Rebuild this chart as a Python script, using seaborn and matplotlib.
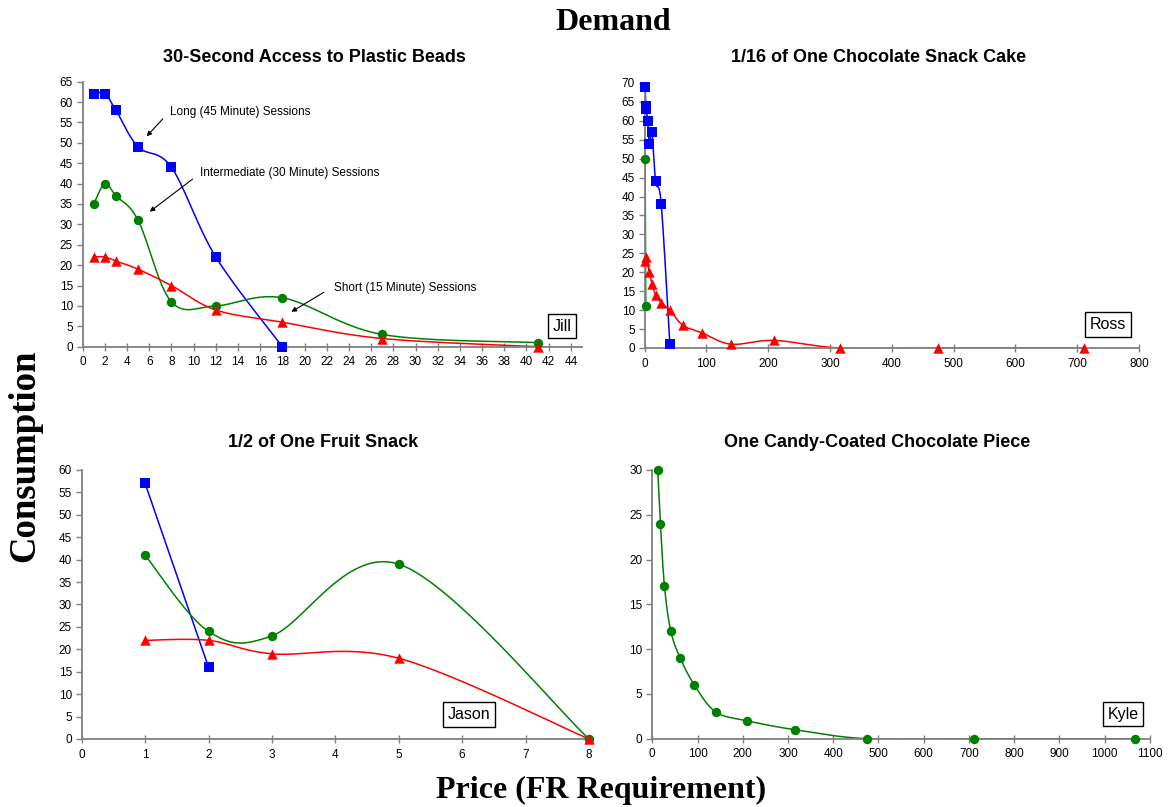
import numpy as np
import matplotlib
matplotlib.use('Agg')
import matplotlib.pyplot as plt
import seaborn as sns

# Jill - 30-second access to plastic beads
jill_long_x = [1, 2, 3, 5, 8, 12, 18]
jill_long_y = [62, 62, 58, 49, 44, 22, 0]
jill_mid_x = [1, 2, 3, 5, 8, 12, 18, 27, 41]
jill_mid_y = [35, 40, 37, 31, 11, 10, 12, 3, 1]
jill_short_x = [1, 2, 3, 5, 8, 12, 18, 27, 41]
jill_short_y = [22, 22, 21, 19, 15, 9, 6, 2, 0]

# Ross - 1/16 of one chocolate snack cake
ross_long_x = [1, 2, 3, 5, 8, 12, 18, 27, 41]
ross_long_y = [69, 64, 63, 60, 54, 57, 44, 38, 1]
ross_mid_x = [1, 2]
ross_mid_y = [50, 11]
ross_short_x = [1, 2, 8, 12, 18, 27, 41, 62, 93, 140, 210, 316, 474, 711]
ross_short_y = [23, 24, 20, 17, 14, 12, 10, 6, 4, 1, 2, 0, 0, 0]

# Jason - 1/2 of one fruit snack
jason_long_x = [1, 2]
jason_long_y = [57, 16]
jason_mid_x = [1, 2, 3, 5, 8]
jason_mid_y = [41, 24, 23, 39, 0]
jason_short_x = [1, 2, 3, 5, 8]
jason_short_y = [22, 22, 19, 18, 0]

# Kyle - one candy-coated chocolate piece
kyle_mid_x = [12, 18, 27, 41, 62, 93, 140, 210, 316, 474, 711, 1066]
kyle_mid_y = [30, 24, 17, 12, 9, 6, 3, 2, 1, 0, 0, 0]

BLUE, GREEN, RED = '#0000ff', '#008000', '#ff0000'
AXCOL = '#808080'


def smooth(x, y, n=30):
    """Excel-style smoothed line (Catmull-Rom bezier) through the points."""
    p = np.column_stack([x, y]).astype(float)
    if len(p) < 3:
        return p[:, 0], p[:, 1]
    ext = np.vstack([p[0], p, p[-1]])
    t = np.linspace(0, 1, n)[:, None]
    segs = []
    for i in range(len(p) - 1):
        p0, p1, p2, p3 = ext[i], ext[i + 1], ext[i + 2], ext[i + 3]
        c1 = p1 + (p2 - p0) / 6
        c2 = p2 - (p3 - p1) / 6
        seg = (1 - t) ** 3 * p1 + 3 * (1 - t) ** 2 * t * c1 + 3 * (1 - t) * t ** 2 * c2 + t ** 3 * p2
        segs.append(seg if i == 0 else seg[1:])
    s = np.vstack(segs)
    return s[:, 0], s[:, 1]


def series(ax, x, y, color, marker, size):
    sx, sy = smooth(x, y)
    sns.lineplot(x=sx, y=sy, sort=False, estimator=None, color=color, lw=1.1, ax=ax)
    sns.scatterplot(x=x, y=y, marker=marker, s=size, color=color, edgecolor=color,
                    linewidth=0, ax=ax, clip_on=False, zorder=5)


def style(ax, xmax, xstep, ymax, xlim=None):
    ax.set_xlim(0, xlim if xlim else xmax)
    ax.set_ylim(0, ymax)
    ax.set_xticks(np.arange(0, xmax + 1, xstep))
    ax.set_yticks(np.arange(0, ymax + 1, 5))
    for side in ['top', 'right']:
        ax.spines[side].set_visible(False)
    for side in ['left', 'bottom']:
        ax.spines[side].set_color(AXCOL)
        ax.spines[side].set_linewidth(1.3)
    ax.tick_params(axis='x', direction='inout', length=6, width=1, color=AXCOL,
                   labelsize=8.5, labelcolor='black', pad=4)
    ax.tick_params(axis='y', direction='out', length=4, width=1, color=AXCOL,
                   labelsize=8.5, labelcolor='black', pad=3)
    ax.set_xlabel('')
    ax.set_ylabel('')
    ax.grid(False)


def name_box(ax, text, xf, yf):
    ax.text(xf, yf, text, transform=ax.transAxes, ha='center', va='center',
            fontsize=11.5, bbox=dict(boxstyle='square,pad=0.3', fc='white',
                                     ec='black', lw=1))


sns.set_style('ticks')
plt.rcParams['font.family'] = ['Liberation Sans', 'DejaVu Sans']
plt.rcParams['text.color'] = 'black'

fig = plt.figure(figsize=(11.74, 8.07), dpi=100)
ax1 = fig.add_axes([0.0704, 0.5704, 0.4253, 0.3284])
ax2 = fig.add_axes([0.5490, 0.5688, 0.4212, 0.3284])
ax3 = fig.add_axes([0.0696, 0.0843, 0.4321, 0.3333])
ax4 = fig.add_axes([0.5556, 0.0846, 0.4239, 0.3330])

# top left
series(ax1, jill_long_x, jill_long_y, BLUE, 's', 42)
series(ax1, jill_mid_x, jill_mid_y, GREEN, 'o', 46)
series(ax1, jill_short_x, jill_short_y, RED, '^', 56)
style(ax1, 44, 2, 65, xlim=45)
name_box(ax1, 'Jill', 0.96, 0.078)
arrow = dict(arrowstyle='-|>', color='black', lw=0.8, mutation_scale=7)
ax1.annotate('', xy=(5.6, 51.1), xytext=(7.4, 56.4), arrowprops=arrow)
ax1.text(7.9, 57.6, 'Long (45 Minute) Sessions', fontsize=8.5, va='center')
ax1.annotate('', xy=(5.85, 32.7), xytext=(10.1, 41.5), arrowprops=arrow)
ax1.text(10.6, 42.5, 'Intermediate (30 Minute) Sessions', fontsize=8.5, va='center')
ax1.annotate('', xy=(18.6, 8.2), xytext=(21.95, 13.7), arrowprops=arrow)
ax1.text(22.65, 14.3, 'Short (15 Minute) Sessions', fontsize=8.5, va='center')

# top right
series(ax2, ross_long_x, ross_long_y, BLUE, 's', 42)
series(ax2, ross_mid_x, ross_mid_y, GREEN, 'o', 46)
series(ax2, ross_short_x, ross_short_y, RED, '^', 56)
style(ax2, 800, 100, 70)
name_box(ax2, 'Ross', 0.938, 0.089)

# bottom left
series(ax3, jason_long_x, jason_long_y, BLUE, 's', 42)
series(ax3, jason_mid_x, jason_mid_y, GREEN, 'o', 46)
series(ax3, jason_short_x, jason_short_y, RED, '^', 56)
style(ax3, 8, 1, 60)
name_box(ax3, 'Jason', 0.763, 0.091)

# bottom right
series(ax4, kyle_mid_x, kyle_mid_y, GREEN, 'o', 46)
style(ax4, 1100, 100, 30)
name_box(ax4, 'Kyle', 0.946, 0.092)

# panel titles
tkw = dict(fontsize=13, fontweight='bold', ha='center', va='center')
fig.text(314.5 / 1174, 1 - 57 / 807, '30-Second Access to Plastic Beads', **tkw)
fig.text(879 / 1174, 1 - 57 / 807, '1/16 of One Chocolate Snack Cake', **tkw)
fig.text(323.5 / 1174, 1 - 443 / 807, '1/2 of One Fruit Snack', **tkw)
fig.text(877 / 1174, 1 - 443 / 807, 'One Candy-Coated Chocolate Piece', **tkw)

# figure titles
skw = dict(family=['Liberation Serif', 'DejaVu Serif'], fontweight='bold',
           ha='center', va='center')
fig.text(613 / 1174, 1 - 22 / 807, 'Demand', fontsize=23, **skw)
fig.text(601 / 1174, 1 - 790 / 807, 'Price (FR Requirement)', fontsize=23, **skw)
fig.text(25 / 1174, 1 - 456 / 807, 'Consumption', fontsize=26.5, rotation=90, **skw)

fig.savefig('out.png', dpi=100)
